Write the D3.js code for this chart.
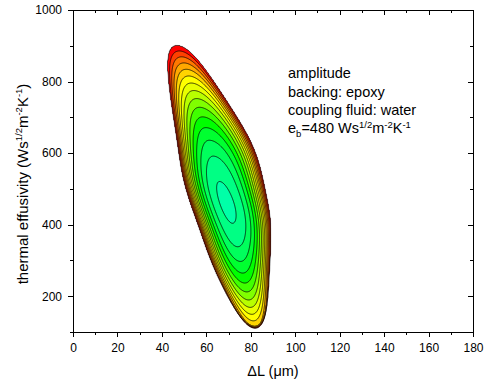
<!DOCTYPE html>
<html>
<head>
<meta charset="utf-8">
<script src="https://cdn.jsdelivr.net/npm/d3@7"></script>
<style>
body{margin:0;background:#fff}
svg{display:block;font-family:Arial,"Liberation Sans",sans-serif}
</style>
</head>
<body>
<svg width="484" height="383"></svg>
<script>
// contour levels of the amplitude surface, inner -> outer (last one = outer edge)
var levels=[0.27,1.27,2.27,3.27,4.27,5.27,6.27,7.27,8.27,9.27,10.27,11.27,12.27,13.27,14.3];
var levelColors=["#00ffa8","#00ff84","#00ff5c","#00ff30","#00ff00","#40ff00","#80ff00","#b8ff00","#e8ff00","#ffff00","#ffd400","#ffa800","#ff7800","#ff4000","#ff0000"];
var xTicks=[0,20,40,60,80,100,120,140,160,180];
var xMinor=[10,30,50,70,90,110,130,150,170];
var yTicks=[200,400,600,800,1000];
var yMinor=[100,300,500,700,900];
// shape of the valley (ΔL in µm, effusivity)
var minimum=[69,460];
var ridgeTilt=[-0.037,-0.00003];
var coreTilt=[-0.0161,112];
var valleySpan=[116.8,108,92.4];
var valleyWidth=[5.85,820,440,0.107];
var rightStretch=[0.28,130,170,165];
var xCut=89;

var svg=d3.select("svg");
var xScale=d3.scaleLinear().domain([0,180]).range([73,473]);
var yScale=d3.scaleLinear().domain([100,1000]).range([332,10]);

var surface=function(x,y)
{
  var T=y-minimum[1];
  var k=T/coreTilt[1];
  var mid=minimum[0]+ridgeTilt[0]*T+(T>0?ridgeTilt[1]*T*T:0)+coreTilt[0]*T*Math.exp(-k*k);
  var q=T/(T>0?valleyWidth[1]:valleyWidth[2]);
  var b=valleyWidth[0]/(1+q*q);
  if(x>mid)
  {
    var r=(T-rightStretch[1])/(T<rightStretch[1]?rightStretch[2]:rightStretch[3]);
    b=b*(1+rightStretch[0]*Math.exp(-r*r));
  }
  var s=(x-mid)/b;
  var g=s*s+valleyWidth[3]*s*s*s*s;
  var f=Math.pow(T/(T>0?valleySpan[0]:valleySpan[1]),2)+g;
  var top=levels[levels.length-1];
  var cut=T<0?Math.pow(T/valleySpan[2],2)+g:f;
  return Math.max(f,top+10*(cut-top),top+30*(x-xCut));
};

//grid over the plot area
var x0=xScale.range()[0], y0=yScale.range()[1];
var n=Math.round(xScale.range()[1]-x0), m=Math.round(yScale.range()[0]-y0);
var values=new Float64Array(n*m);
for(var j=0;j<m;j++)
{
  for(var i=0;i<n;i++)
  {
    values[i+j*n]=-surface(xScale.invert(x0+i+0.5),yScale.invert(y0+j+0.5));
  }
}
var thresholds=levels.slice().reverse().map(function(d){return -d;});
var bands=d3.contours().size([n,m]).thresholds(thresholds)(values);

svg.append("clipPath").attr("id","plotclip")
   .append("rect").attr("x",x0).attr("y",y0).attr("width",n).attr("height",m);

var plotLand=svg.append("g").attr("clip-path","url(#plotclip)")
                .append("g").attr("transform","translate("+x0+","+y0+")");
plotLand.selectAll("path")
        .data(bands)
        .enter()
        .append("path")
        .attr("d",d3.geoPath())
        .attr("fill",function(d){return levelColors[levels.indexOf(-d.value)];})
        .attr("stroke","#000")
        .attr("stroke-width",0.75)
        .attr("stroke-linejoin","round");

//axes, Origin style: outside ticks bottom/left, inside ticks top/right
var axisStyle=function(g)
{
  g.selectAll("path,line").attr("stroke","#000").attr("stroke-width",1).attr("shape-rendering","crispEdges");
  g.selectAll("text").attr("font-size",12).attr("fill","#000").attr("font-family",'Arial,"Liberation Sans",sans-serif');
};
var yBottom=yScale(100), yTop=yScale(1000), xLeft=xScale(0), xRight=xScale(180);

svg.append("g").attr("transform","translate(0,"+yBottom+")")
   .call(d3.axisBottom(xScale).tickValues(xTicks).tickSize(5).tickPadding(6).tickSizeOuter(0).tickFormat(d3.format("d"))).call(axisStyle);
svg.append("g").attr("transform","translate(0,"+yBottom+")")
   .call(d3.axisBottom(xScale).tickValues(xMinor).tickSize(3).tickFormat("").tickSizeOuter(0)).call(axisStyle);
svg.append("g").attr("transform","translate(0,"+yTop+")")
   .call(d3.axisTop(xScale).tickValues(xTicks).tickSize(-5).tickFormat("").tickSizeOuter(0)).call(axisStyle);
svg.append("g").attr("transform","translate(0,"+yTop+")")
   .call(d3.axisTop(xScale).tickValues(xMinor).tickSize(-3).tickFormat("").tickSizeOuter(0)).call(axisStyle);

svg.append("g").attr("transform","translate("+xLeft+",0)")
   .call(d3.axisLeft(yScale).tickValues(yTicks).tickSize(5).tickPadding(6).tickSizeOuter(0).tickFormat(d3.format("d"))).call(axisStyle);
svg.append("g").attr("transform","translate("+xLeft+",0)")
   .call(d3.axisLeft(yScale).tickValues(yMinor).tickSize(3).tickFormat("").tickSizeOuter(0)).call(axisStyle);
svg.append("g").attr("transform","translate("+xRight+",0)")
   .call(d3.axisRight(yScale).tickValues(yTicks).tickSize(-5).tickFormat("").tickSizeOuter(0)).call(axisStyle);
svg.append("g").attr("transform","translate("+xRight+",0)")
   .call(d3.axisRight(yScale).tickValues(yMinor).tickSize(-3).tickFormat("").tickSizeOuter(0)).call(axisStyle);

//titles with super/subscripts
var addRich=function(t,parts)
{
  parts.forEach(function(p)
  {
    var ts=t.append("tspan").text(p[0]);
    if(p[1]=="sup") ts.attr("font-size",9.5).attr("dy",-5.5);
    if(p[1]=="sub") ts.attr("font-size",9.5).attr("dy",4);
    if(p[1]=="back") ts.attr("dy",5.5);
    if(p[1]=="up") ts.attr("dy",-4);
  });
};

svg.append("text")
   .attr("x",(xLeft+xRight)/2)
   .attr("y",376)
   .attr("text-anchor","middle")
   .attr("font-size",14.5)
   .text("\u0394L (\u03bcm)");

var yTitle=svg.append("text")
   .attr("transform","translate(27.5,184) rotate(-90)")
   .attr("text-anchor","middle")
   .attr("font-size",15);
addRich(yTitle,[["thermal effusivity (Ws"],["1/2","sup"],["m","back"],["-2","sup"],["K","back"],["-1","sup"],[")","back"]]);

var note=svg.append("g").attr("font-size",14.5);
note.append("text").attr("x",288).attr("y",78.3).text("amplitude");
note.append("text").attr("x",288).attr("y",96.6).text("backing: epoxy");
note.append("text").attr("x",288).attr("y",115).text("coupling fluid: water");
var eb=note.append("text").attr("x",288).attr("y",133.3);
addRich(eb,[["e"],["b","sub"],["=480 Ws","up"],["1/2","sup"],["m","back"],["-2","sup"],["K","back"],["-1","sup"]]);
</script>
</body>
</html>
